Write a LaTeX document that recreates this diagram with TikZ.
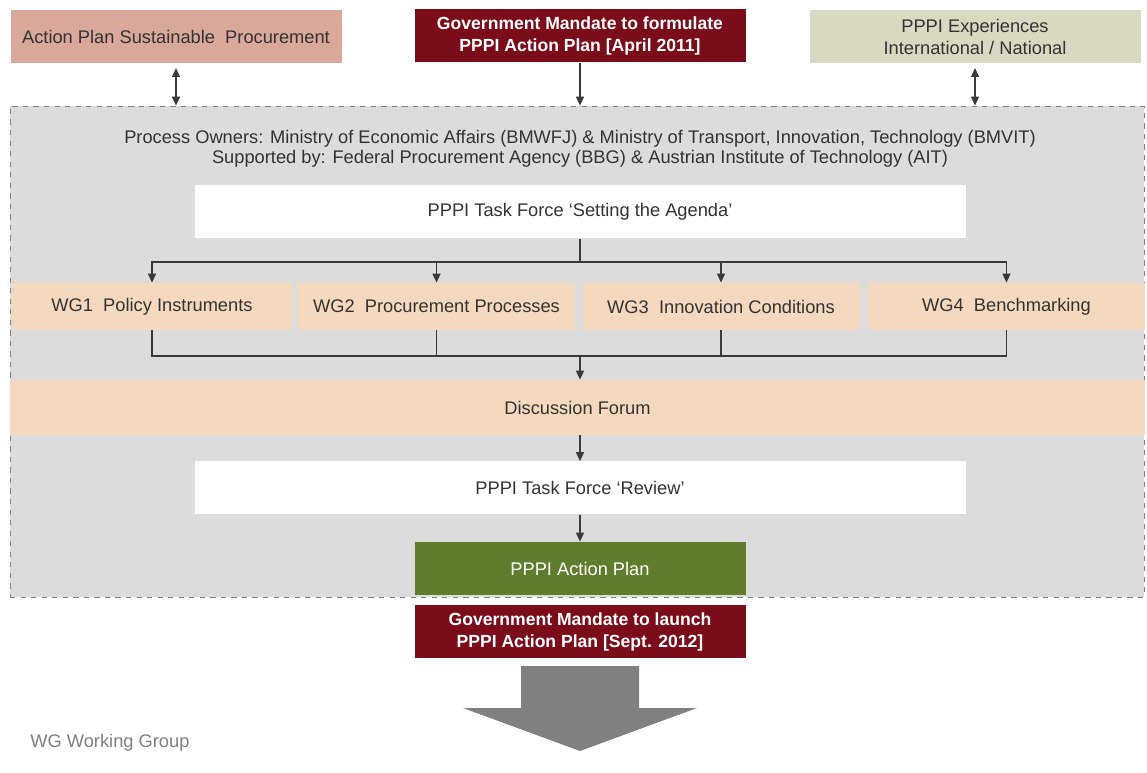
\documentclass[tikz,border=0pt]{standalone}
\usepackage{fontspec}
\setmainfont{Liberation Sans}
\usetikzlibrary{arrows.meta}
\definecolor{salmon}{HTML}{D9A89A}
\definecolor{wine}{HTML}{7B0C1A}
\definecolor{sage}{HTML}{D7DAC1}
\definecolor{pane}{HTML}{DCDCDC}
\definecolor{peach}{HTML}{F4D9BF}
\definecolor{olive}{HTML}{5F7D2C}
\definecolor{txt}{HTML}{333333}
\definecolor{wire}{HTML}{3A3A3A}
\tikzset{
  blk/.style={rectangle, inner sep=0pt, align=center, text=txt, font=\fontsize{10.4}{12.5}\selectfont},
  dark/.style={blk, text=white, font=\bfseries\fontsize{10}{12.5}\selectfont},
  wgbox/.style={blk, fill=peach, minimum width=277*0.02cm, minimum height=47*0.02cm},
  wide/.style={blk, fill=white, minimum width=771*0.02cm, minimum height=53*0.02cm},
  topbox/.style={minimum width=331*0.02cm, minimum height=53*0.02cm},
  conn/.style={draw=wire, line width=0.8pt, -{Triangle[width=1.6mm,length=1.8mm]}},
  twoway/.style={conn, {Triangle[width=1.6mm,length=1.8mm]}-{Triangle[width=1.6mm,length=1.8mm]}},
  line/.style={draw=wire, line width=0.8pt}
}

\begin{document}
\begin{tikzpicture}[x=0.02cm, y=-0.02cm]
        % Paths, nodes and wires:
        \useasboundingbox[fill=white] (0, 0) rectangle (1147, 773);
        \draw node[blk, fill=pane, draw=gray, dashed, minimum width=1134*0.02cm, minimum height=491*0.02cm] (N0) at (577, 351.5) {};
        \draw node[blk, topbox, fill=salmon] (N1) at (176, 37) {Action Plan Sustainable\ \ Procurement};
        \draw node[dark, topbox, fill=wine] (N2) at (580, 36) {Government Mandate to formulate\\PPPI Action Plan [April 2011]};
        \draw node[blk, topbox, fill=sage] (N3) at (975, 36.5) {PPPI Experiences\\International / National};
        \draw node[blk, font=\fontsize{10.4}{11.6}\selectfont] (N4) at (580, 149) {Process Owners: Ministry of Economic Affairs (BMWFJ) \& Ministry of Transport, Innovation, Technology (BMVIT)\\Supported by: Federal Procurement Agency (BBG) \& Austrian Institute of Technology (AIT)};
        \draw node[wide] (N5) at (580, 212) {PPPI Task Force `Setting the Agenda'};
        \draw node[wgbox, minimum width=280*0.02cm] (N6) at (152, 306.5) {WG1\ \ Policy Instruments};
        \draw node[wgbox] (N7) at (436.5, 306.5) {WG2\ \ Procurement Processes};
        \draw node[wgbox] (N8) at (721, 306.5) {WG3\ \ Innovation Conditions};
        \draw node[wgbox] (N9) at (1006.5, 306.5) {WG4\ \ Benchmarking};
        \draw node[blk, fill=peach, minimum width=1135*0.02cm, minimum height=55*0.02cm] (N10) at (577.5, 407.5) {Discussion Forum};
        \draw node[wide] (N11) at (580, 488) {PPPI Task Force `Review'};
        \draw node[dark, topbox, fill=olive, font=\fontsize{10.4}{12.5}\selectfont] (N12) at (580, 568.5) {PPPI Action Plan};
        \draw node[dark, topbox, fill=wine] (N13) at (580, 632) {Government Mandate to launch\\PPPI Action Plan [Sept. 2012]};
        \draw node[blk, anchor=west, text=gray] (N14) at (30, 743) {WG Working Group};
        \fill[gray] (521, 666) -- (639, 666) -- (639, 708) -- (697, 708) -- (580, 751) -- (463, 708) -- (521, 708) -- cycle;
        \coordinate (C1) at (580, 262);
        \coordinate (C2) at (580, 356);
        \draw[twoway] (N1.south |- 0, 68) -- (N1.south |- N0.north);
        \draw[conn] (N2.south) -- (N2.south |- N0.north);
        \draw[twoway] (N3.south |- 0, 68) -- (N3.south |- N0.north);
        \draw[line] (N5.south) -- (C1);
        \draw[conn] (C1) -| (N6.north);
        \draw[conn] (C1) -| (N7.north);
        \draw[conn] (C1) -| (N8.north);
        \draw[conn] (C1) -| (N9.north);
        \draw[line] (N6.south) |- (C2);
        \draw[line] (N7.south) |- (C2);
        \draw[line] (N8.south) |- (C2);
        \draw[line] (N9.south) |- (C2);
        \draw[conn] (C2) -- (C2 |- N10.north);
        \draw[conn] (N10.south -| C2) -- (N11.north);
        \draw[conn] (N11.south) -- (N12.north);
      \end{tikzpicture}
\end{document}
